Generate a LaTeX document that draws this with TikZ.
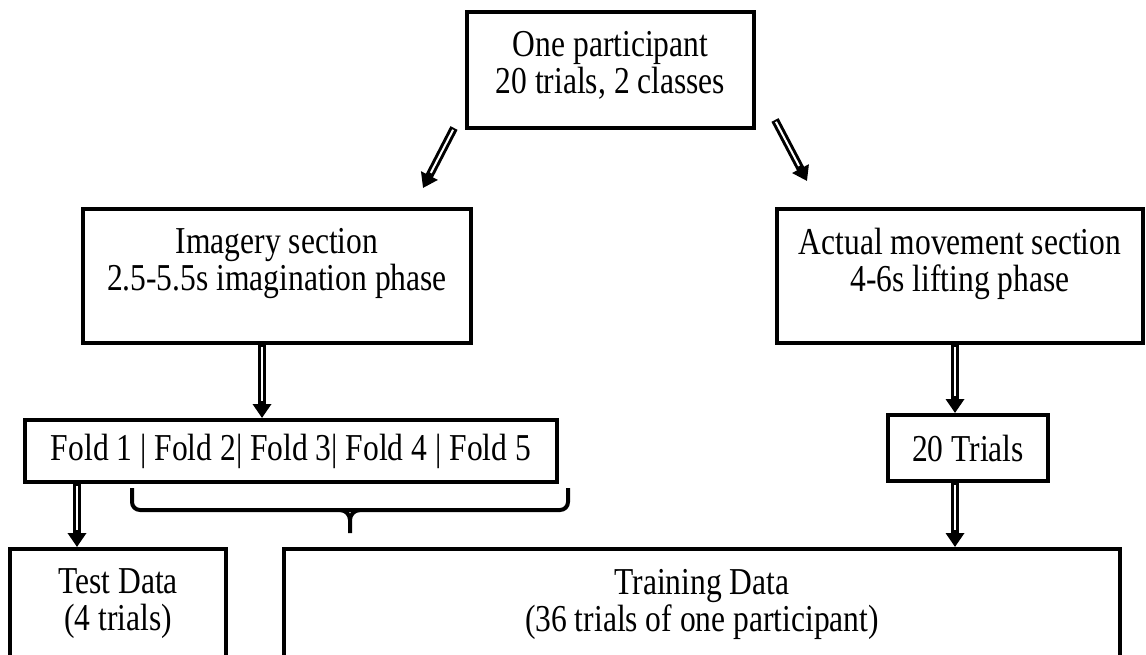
\documentclass[tikz,border=0pt]{standalone}
\usepackage{fontspec}
\setmainfont{Liberation Serif}[FakeStretch=0.83]
\usetikzlibrary{arrows.meta}
\tikzset{
  box/.style={draw, line width=4pt, inner sep=0pt},
  lbl/.style={align=center, inner sep=0pt, font=\fontsize{38}{37}\selectfont},
  dblarrow/.style={line width=8pt, -{Triangle[length=14pt,width=18pt]}},
  dblcore/.style={white, line width=2pt, shorten >=17pt, shorten <=2pt},
}
\begin{document}
\begin{tikzpicture}[x=1pt,y=-1pt]
\useasboundingbox (0,0) rectangle (1146,654);
\clip (0,0) rectangle (1146,654);

% boxes
\node[box, minimum width=287pt, minimum height=116pt] (top) at (610.5,70){};
\node[lbl] (toplbl) at (610.5,65){One participant\\20 trials, 2 classes};
\node[box, minimum width=388pt, minimum height=134pt] (imag) at (277,276){};
\node[lbl] (imaglbl) at (277,264){Imagery section\\2.5-5.5s imagination phase};
\node[box, minimum width=366pt, minimum height=134pt] (actual) at (960,276){};
\node[lbl] (actuallbl) at (960,264){Actual movement section\\4-6s lifting phase};
\node[box, lbl, minimum width=532pt, minimum height=62pt] (folds) at (291,451){Fold 1 | Fold 2| Fold 3| Fold 4 | Fold 5};
\node[box, lbl, minimum width=160pt, minimum height=66pt] (trials) at (968,448){20 Trials};
\node[box, minimum width=216pt, minimum height=140pt] (test) at (118,619){};
\node[lbl] (testlbl) at (118,604){Test Data\\(4 trials)};
\node[box, minimum width=836pt, minimum height=140pt] (train) at (702,619){};
\node[lbl] (trainlbl) at (702,604){Training Data\\(36 trials of one participant)};

% arrow ends
\coordinate (ls) at (454,128);
\coordinate (le) at (423,188);
\coordinate (rs) at (775,120);
\coordinate (re) at (807,181);

\draw[dblarrow] (ls) -- (le);
\draw[dblcore] (ls) -- (le);
\draw[dblarrow] (rs) -- (re);
\draw[dblcore] (rs) -- (re);
\draw[dblarrow] (imag.south -| 262,0) -- (folds.north -| 262,0);
\draw[dblcore] (imag.south -| 262,0) -- (folds.north -| 262,0);
\draw[dblarrow] (actual.south -| 955,0) -- (trials.north -| 955,0);
\draw[dblcore] (actual.south -| 955,0) -- (trials.north -| 955,0);
\draw[dblarrow] (folds.south -| 77,0) -- (test.north -| 77,0);
\draw[dblcore] (folds.south -| 77,0) -- (test.north -| 77,0);
\draw[dblarrow] (trials.south -| 955,0) -- (train.north -| 955,0);
\draw[dblcore] (trials.south -| 955,0) -- (train.north -| 955,0);

% brace
\draw[line width=4pt, rounded corners=8pt] (132,488) -- (132,510) -- (568,510) -- (568,488);
\draw[line width=4pt] (340,510) to[out=0,in=90] (350,520) -- (350,533);
\draw[line width=4pt] (360,510) to[out=180,in=90] (350,520);

\end{tikzpicture}
\end{document}
